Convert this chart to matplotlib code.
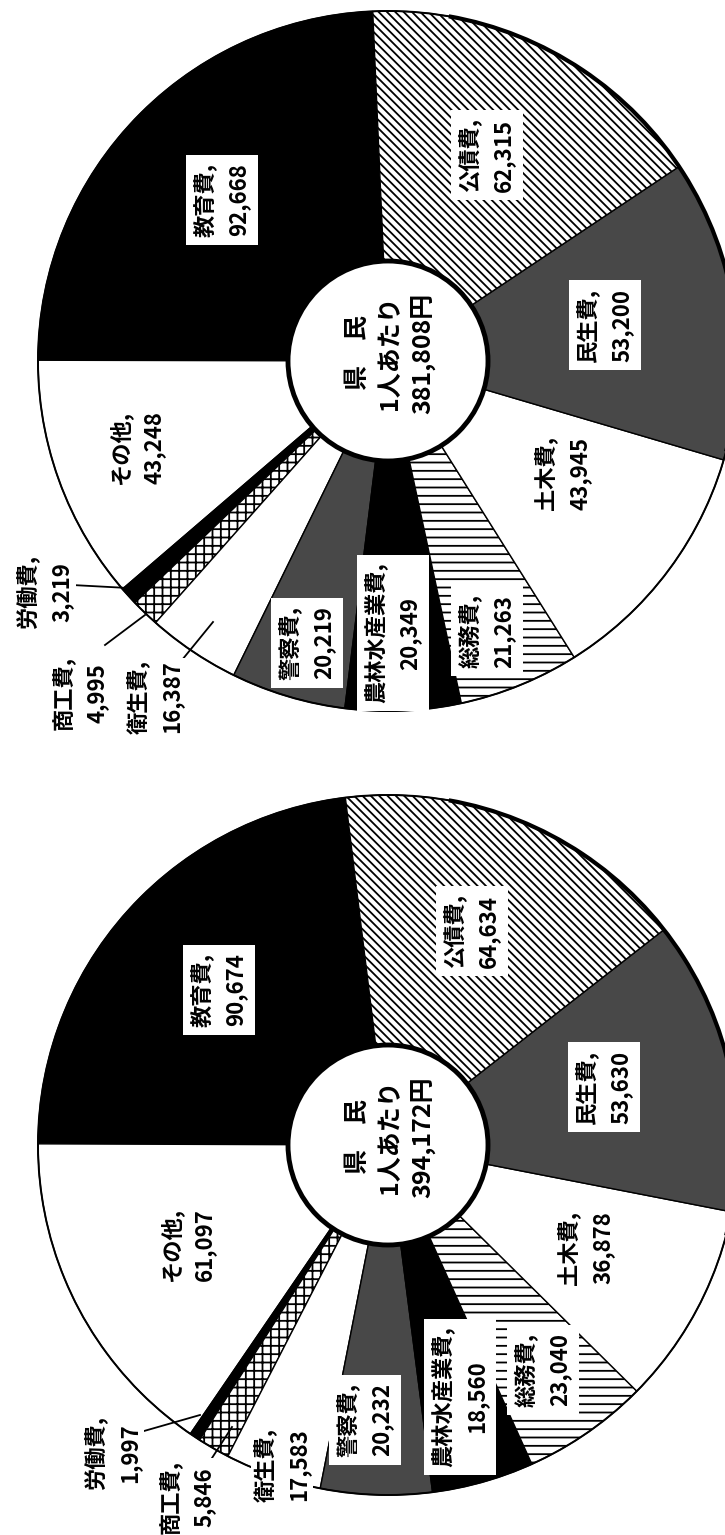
import matplotlib.pyplot as plt
from matplotlib.patches import Circle, Arc

plt.rcParams['font.family'] = ['Noto Sans CJK JP', 'DejaVu Sans']
plt.rcParams['hatch.linewidth'] = 1.3

W, H = 725, 1535
R, R_HOLE = 350, 100

# slices in drawing order (counterclockwise from the top)
items = ["教育費", "その他", "労働費", "商工費", "衛生費", "警察費",
         "農林水産業費", "総務費", "土木費", "民生費", "公債費"]
values_top = [92668, 43248, 3219, 4995, 16387, 20219, 20349, 21263, 43945, 53200, 62315]
values_bottom = [90674, 61097, 1997, 5846, 17583, 20232, 18560, 23040, 36878, 53630, 64634]
totals = [381808, 394172]

colors = ["black", "white", "black", "white", "white", "#484848",
          "black", "white", "white", "#484848", "white"]
hatches = ["", "", "", "++", "", "", "", "--", "", "", "\\\\\\\\"]
outside = ["労働費", "商工費", "衛生費"]

# label centres in picture pixels (x right, y down)
labels_top = [(222, 200), (137, 448), (45, 592), (80, 693), (155, 697), (307, 643),
              (393, 633), (487, 631), (563, 473), (605, 325), (487, 155)]
labels_bottom = [(219, 990), (188, 1245), (113, 1453), (187, 1497), (282, 1465), (365, 1420),
                 (460, 1397), (543, 1370), (586, 1248), (604, 1087), (472, 931)]
leaders_top = [((72, 585), (128, 588)), ((105, 645), (145, 615)), ((182, 660), (213, 622))]
leaders_bottom = [((137, 1433), (200, 1415)), ((212, 1458), (232, 1427))]


def draw_pie(ax, values, total, cx, cy, start, label_xy, leaders):
    y0 = H - cy
    ax.pie(values, colors=colors, hatch=hatches, startangle=start, counterclock=True,
           radius=R, center=(cx, y0),
           wedgeprops=dict(width=R - R_HOLE, edgecolor="black", linewidth=1.0))
    ax.add_patch(Circle((cx, y0), R, fill=False, ec="black", lw=1.4, zorder=3))
    ax.add_patch(Arc((cx, y0), 2 * R, 2 * R, theta1=-15, theta2=80,
                     ec="black", lw=3.0, zorder=3))
    ax.add_patch(Circle((cx, y0), R_HOLE, fc="white", ec="black", lw=3.5, zorder=4))
    ax.text(cx + 3, y0 + 8, f"県　民\n1人あたり\n{total:,}円", rotation=90,
            ha="center", va="center", fontsize=18, fontweight="bold",
            linespacing=1.45, zorder=5)

    for (p, q) in leaders:
        ax.plot([p[0], q[0]], [H - p[1], H - q[1]], color="black", lw=1.3, zorder=5)

    for name, v, (lx, ly) in zip(items, values, label_xy):
        pad = 0.1 if name in outside else 0.35
        box = dict(boxstyle=f"square,pad={pad}", fc="white", ec="none")
        ax.text(lx, H - ly, f"{name},\n{v:,}", rotation=90, ha="center", va="center",
                multialignment="center", fontsize=16, fontweight="bold",
                linespacing=1.55, bbox=box, zorder=6)


fig = plt.figure(figsize=(W / 100, H / 100), dpi=100)
ax = fig.add_axes([0, 0, 1, 1])

draw_pie(ax, values_top, totals[0], 388, 361, 92.5, labels_top, leaders_top)
draw_pie(ax, values_bottom, totals[1], 388, 1145, 97, labels_bottom, leaders_bottom)

ax.set_xlim(0, W)
ax.set_ylim(0, H)
ax.set_aspect("equal")
ax.axis("off")

fig.savefig("out.png", dpi=100, facecolor="white")
